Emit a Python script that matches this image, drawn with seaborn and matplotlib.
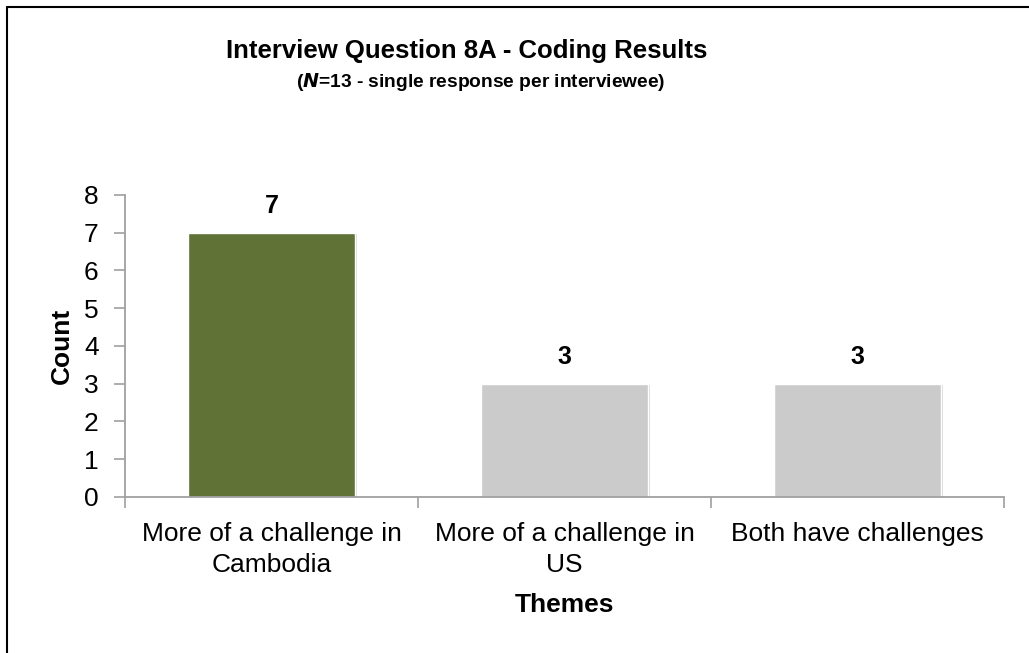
import matplotlib
matplotlib.use('Agg')
import matplotlib.pyplot as plt
import matplotlib.patheffects as pe
from matplotlib.lines import Line2D
import seaborn as sns
import pandas as pd

sns.set_style('white')
plt.rcParams['font.family'] = ['Liberation Sans', 'DejaVu Sans']
plt.rcParams['text.color'] = 'black'
plt.rcParams['axes.labelcolor'] = 'black'

# data
themes = ['More of a challenge in\nCambodia', 'More of a challenge in\nUS', 'Both have challenges']
counts = [7, 3, 3]
bar_colors = ['#617236', '#CBCBCB', '#CBCBCB']

df = pd.DataFrame({'theme': themes, 'count': counts})

fig = plt.figure(figsize=(10.29, 6.53), dpi=100)
ax = fig.add_axes([0.1215, 0.2389, 0.8542, 0.4625])

sns.barplot(data=df, x='theme', y='count', hue='theme', palette=bar_colors,
            width=0.573, legend=False, ax=ax, saturation=1)

shadow = [pe.SimplePatchShadow(offset=(1.2, -1.2), shadow_rgbFace='#b5b5b5', alpha=0.5), pe.Normal()]
for p in ax.patches:
    p.set_path_effects(shadow)

for c in ax.containers:
    ax.bar_label(c, fmt='%d', padding=10.5, fontsize=18, fontweight='bold', color='black')

ax.set_ylim(0, 8)
ax.set_xlim(-0.5, 2.5)
ax.set_yticks(range(0, 9))
ax.set_xticks(range(len(themes)))
ax.set_xticklabels(themes, linespacing=1.35)
ax.set_xticks([-0.5, 0.5, 1.5, 2.5], minor=True)

gray = '#A0A0A0'
for s in ['top', 'right']:
    ax.spines[s].set_visible(False)
for s in ['left', 'bottom']:
    ax.spines[s].set_color(gray)
    ax.spines[s].set_linewidth(1.3)

ax.tick_params(axis='y', which='major', direction='out', length=8, width=1.2,
               color=gray, labelcolor='black', labelsize=19, pad=11, left=True)
ax.tick_params(axis='x', which='major', length=0, labelsize=19, labelcolor='black', pad=18)
ax.tick_params(axis='x', which='minor', direction='out', length=8, width=1.2,
               color=gray, bottom=True)

ax.set_xlabel('Themes', fontsize=19, fontweight='bold', labelpad=12)
ax.set_ylabel('Count', fontsize=19, fontweight='bold', labelpad=7)

fig.text(467 / 1029, 1 - 58 / 653, 'Interview Question 8A - Coding Results',
         ha='center', va='baseline', fontsize=18.5, fontweight='bold')
fig.text(481 / 1029, 1 - 87 / 653, r'($\bfit{N}$=13 - single response per interviewee)',
         ha='center', va='baseline', fontsize=13.8, fontweight='bold')

# frame around the chart area
x0 = 6.5 / 1029
y0 = 1 - 6.5 / 653
fig.add_artist(Line2D([x0, x0], [0, y0], color='black', lw=1.5, transform=fig.transFigure))
fig.add_artist(Line2D([x0, 1], [y0, y0], color='black', lw=1.5, transform=fig.transFigure))

fig.savefig('out.png', dpi=100)
